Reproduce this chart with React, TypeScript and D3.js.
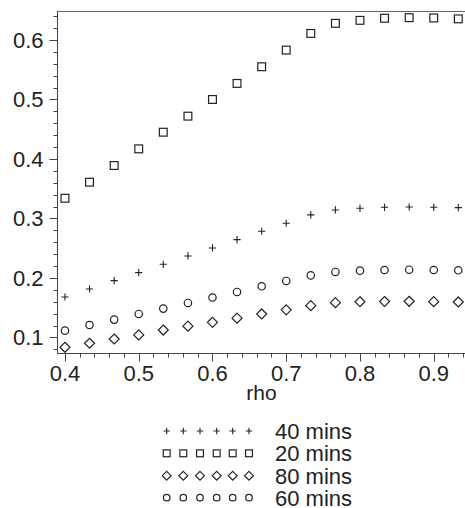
import React from "react";
import * as d3 from "d3";

const rho = [0.4, 0.4333, 0.4667, 0.5, 0.5333, 0.5667, 0.6, 0.6333, 0.6667, 0.7, 0.7333, 0.7667, 0.8, 0.8333, 0.8667, 0.9, 0.9333];
const mins20 = [0.334, 0.361, 0.389, 0.417, 0.445, 0.472, 0.5, 0.527, 0.555, 0.583, 0.611, 0.628, 0.633, 0.6365, 0.6375, 0.637, 0.6355];
const mins40 = [0.168, 0.1815, 0.1955, 0.209, 0.223, 0.237, 0.2505, 0.2645, 0.2785, 0.292, 0.306, 0.3143, 0.3171, 0.3188, 0.3193, 0.3188, 0.3182];
const mins60 = [0.1115, 0.121, 0.13, 0.1395, 0.1485, 0.158, 0.1672, 0.1765, 0.186, 0.195, 0.2043, 0.2101, 0.2123, 0.2134, 0.2139, 0.2134, 0.2129];
const mins80 = [0.0835, 0.0903, 0.0974, 0.1043, 0.1125, 0.119, 0.1255, 0.1325, 0.1395, 0.1465, 0.1535, 0.1585, 0.16, 0.1605, 0.1608, 0.1602, 0.1597];
const xTicks = [0.4, 0.5, 0.6, 0.7, 0.8, 0.9];
const yTicks = [0.1, 0.2, 0.3, 0.4, 0.5, 0.6];
const legendLabels = ["40 mins", "20 mins", "80 mins", "60 mins"];
const legendKinds = ["plus", "square", "diamond", "circle"];

const W = 465;
const H = 508;
const FONT = "'Liberation Sans', Arial, Helvetica, sans-serif";
const INK = "#222";

function Marker({ kind, x, y, s = 1 }: { kind: string; x: number; y: number; s?: number }) {
  if (kind === "plus") {
    const h = 3.6 * s;
    return <path d={`M${x - h},${y}H${x + h}M${x},${y - h}V${y + h}`} stroke={INK} strokeWidth={1.1} fill="none" />;
  }
  if (kind === "square") {
    const h = 3.9 * s;
    return <rect x={x - h} y={y - h} width={2 * h} height={2 * h} stroke={INK} strokeWidth={1.2} fill="none" />;
  }
  if (kind === "diamond") {
    const h = 5 * s;
    return <path d={`M${x},${y - h}L${x + h},${y}L${x},${y + h}L${x - h},${y}Z`} stroke={INK} strokeWidth={1.2} fill="none" />;
  }
  return <circle cx={x} cy={y} r={3.7 * s} stroke={INK} strokeWidth={1.2} fill="none" />;
}

export default function App() {
  const x = d3.scaleLinear().domain([0.3896, 0.9424]).range([57.3, 465]);
  const y = d3.scaleLinear().domain([0.0734, 0.6487]).range([353.3, 11]);
  const x0 = 57.5;
  const y0 = 353.5;
  const xMinor = d3.range(0.4, 0.945, 0.02);
  const yMinor = d3.range(0.08, 0.645, 0.02);
  const series = [
    { kind: "plus", vals: mins40 },
    { kind: "square", vals: mins20 },
    { kind: "diamond", vals: mins80 },
    { kind: "circle", vals: mins60 },
  ];
  const legendX = [166.7, 183.3, 200, 216.7, 232.7, 249];
  const legendRowY = [431, 453.3, 475.7, 497.7];
  return (
    <svg width={W} height={H} style={{ position: "absolute", left: 0, top: 0, background: "#fff" }} fontFamily={FONT}>
      <rect x={0} y={0} width={W} height={H} fill="#fff" />
      {/* frame */}
      <line x1={x0} x2={W} y1={11.5} y2={11.5} stroke="#666" strokeWidth={1} />
      <line x1={x0} x2={x0} y1={11} y2={y0} stroke="#444" strokeWidth={1} />
      <line x1={x0} x2={W} y1={y0} y2={y0} stroke="#444" strokeWidth={1} />
      {/* y ticks */}
      {yMinor.map((v, i) => (
        <line key={"ym" + i} x1={x0 - 4} x2={x0} y1={Math.round(y(v)) + 0.5} y2={Math.round(y(v)) + 0.5} stroke="#444" />
      ))}
      {yTicks.map((v) => (
        <g key={"y" + v}>
          <line x1={x0 - 8} x2={x0} y1={Math.round(y(v)) + 0.5} y2={Math.round(y(v)) + 0.5} stroke="#444" />
          <text x={43.5} y={y(v) + 8} textAnchor="end" fontSize={22} fill={INK}>
            {v.toFixed(1)}
          </text>
        </g>
      ))}
      {/* x ticks */}
      {xMinor.map((v, i) => (
        <line key={"xm" + i} x1={Math.round(x(v)) + 0.5} x2={Math.round(x(v)) + 0.5} y1={y0} y2={y0 + 4} stroke="#444" />
      ))}
      {xTicks.map((v) => (
        <g key={"x" + v}>
          <line x1={Math.round(x(v)) + 0.5} x2={Math.round(x(v)) + 0.5} y1={y0} y2={y0 + 8} stroke="#444" />
          <text x={x(v)} y={380.7} textAnchor="middle" fontSize={22} fill={INK}>
            {v.toFixed(1)}
          </text>
        </g>
      ))}
      <text x={261.5} y={400} textAnchor="middle" fontSize={21} fill={INK}>
        rho
      </text>
      {/* points */}
      {series.map((s) =>
        s.vals.map((v, i) => <Marker key={s.kind + i} kind={s.kind} x={x(rho[i])} y={y(v)} />)
      )}
      {/* legend */}
      {legendLabels.map((lab, r) => (
        <g key={lab}>
          {legendX.map((lx, j) => (
            <Marker key={j} kind={legendKinds[r]} x={lx} y={legendRowY[r]} s={0.88} />
          ))}
          <text x={275} y={legendRowY[r] + 8} fontSize={22} fill={INK}>
            {lab}
          </text>
        </g>
      ))}
    </svg>
  );
}
